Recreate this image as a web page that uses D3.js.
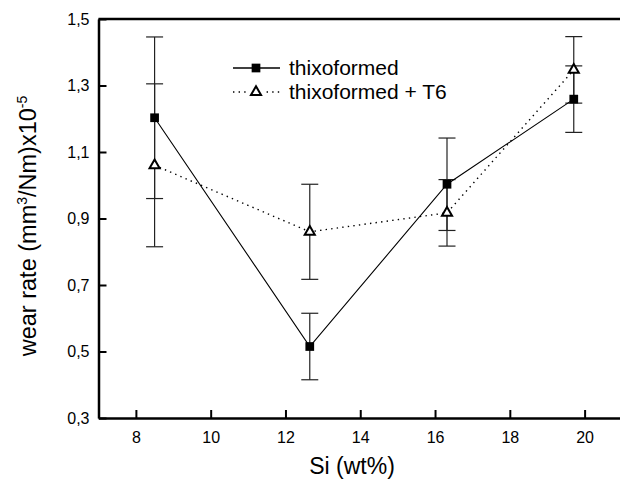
<!DOCTYPE html>
<html>
<head>
<meta charset="utf-8">
<script src="https://cdn.jsdelivr.net/npm/d3@7"></script>
<style>
  body { margin: 0; background: #fff; }
  svg { display: block; font-family: "Liberation Sans", Arial, sans-serif; }
</style>
</head>
<body>
<div id="container"></div>
<script>
/* DATA */
const siContent = [8.5, 12.65, 16.32, 19.71];
const thixoformed = [1.203, 0.515, 1.003, 1.259];
const thixoformedErr = [0.243, 0.10, 0.139, 0.10];
const thixoT6 = [1.06, 0.86, 0.917, 1.347];
const thixoT6Err = [0.245, 0.143, 0.10, 0.10];
const xTicks = [8, 10, 12, 14, 16, 18, 20];
const yTicks = [0.3, 0.5, 0.7, 0.9, 1.1, 1.3, 1.5];
const seriesNames = ["thixoformed", "thixoformed + T6"];

/* CONSTANTS */
const width = 620, height = 481;
const margin = { top: 19, bottom: 63, left: 98.5, right: -2 };

const series = [
  { name: seriesNames[0], y: thixoformed, err: thixoformedErr, marker: "square" },
  { name: seriesNames[1], y: thixoT6, err: thixoT6Err, marker: "triangle" }
].map(s => ({ ...s, points: siContent.map((x, i) => ({ x, y: s.y[i], e: s.err[i] })) }));

/* SCALES */
const xScale = d3.scaleLinear()
  .domain([7, 21])
  .range([margin.left, width - margin.right]);

const yScale = d3.scaleLinear()
  .domain([0.3, 1.5])
  .range([height - margin.bottom, margin.top]);

const commaFmt = d => d3.format(".1f")(d).replace(".", ",");

const svg = d3.select("#container")
  .append("svg")
  .attr("width", width)
  .attr("height", height);

/* AXES */
const xAxis = d3.axisBottom(xScale)
  .tickValues(xTicks)
  .tickSizeInner(-8)
  .tickSizeOuter(0)
  .tickPadding(14);

const gx = svg.append("g")
  .attr("transform", `translate(0,${height - margin.bottom})`)
  .call(xAxis);
gx.select(".domain").attr("stroke-width", 2.5);
gx.selectAll(".tick line").attr("stroke-width", 2);
gx.selectAll(".tick text").attr("font-size", 16).attr("fill", "#000");

const yAxis = d3.axisLeft(yScale)
  .tickValues(yTicks)
  .tickFormat(commaFmt)
  .tickSizeInner(-8)
  .tickSizeOuter(0)
  .tickPadding(9);

const gy = svg.append("g")
  .attr("transform", `translate(${margin.left},0)`)
  .call(yAxis);
gy.select(".domain").attr("stroke-width", 2.5);
gy.selectAll(".tick line").attr("stroke-width", 2);
gy.selectAll(".tick text").attr("font-size", 16).attr("fill", "#000");

// top border
svg.append("line")
  .attr("x1", margin.left).attr("x2", width)
  .attr("y1", yScale(1.5)).attr("y2", yScale(1.5))
  .attr("stroke", "#000").attr("stroke-width", 2.5);

/* AXIS TITLES */
svg.append("text")
  .attr("x", 352)
  .attr("y", 474)
  .attr("text-anchor", "middle")
  .attr("font-size", 23)
  .text("Si (wt%)");

const yTitle = svg.append("text")
  .attr("transform", "translate(36,226) rotate(-90)")
  .attr("text-anchor", "middle")
  .attr("font-size", 23.5);
yTitle.append("tspan").text("wear rate (mm");
yTitle.append("tspan").attr("font-size", 14).attr("dy", -9).text("3");
yTitle.append("tspan").attr("dy", 9).text("/Nm)x10");
yTitle.append("tspan").attr("font-size", 14).attr("dy", -9).text("-5");

/* ERROR BARS */
const cap = 8.5;
series.forEach(s => {
  const g = svg.append("g").attr("stroke", "#222").attr("stroke-width", 1.2);
  g.selectAll("line.v").data(s.points).join("line")
    .attr("x1", d => xScale(d.x)).attr("x2", d => xScale(d.x))
    .attr("y1", d => yScale(d.y + d.e)).attr("y2", d => yScale(d.y - d.e));
  g.selectAll("line.t").data(s.points).join("line")
    .attr("x1", d => xScale(d.x) - cap).attr("x2", d => xScale(d.x) + cap)
    .attr("y1", d => yScale(d.y + d.e)).attr("y2", d => yScale(d.y + d.e));
  g.selectAll("line.b").data(s.points).join("line")
    .attr("x1", d => xScale(d.x) - cap).attr("x2", d => xScale(d.x) + cap)
    .attr("y1", d => yScale(d.y - d.e)).attr("y2", d => yScale(d.y - d.e));
});

/* LINES */
const line = d3.line().x(d => xScale(d.x)).y(d => yScale(d.y));

svg.append("path")
  .datum(series[1].points)
  .attr("d", line)
  .attr("fill", "none")
  .attr("stroke", "#000")
  .attr("stroke-width", 1.4)
  .attr("stroke-dasharray", "1.4,4.2");

svg.append("path")
  .datum(series[0].points)
  .attr("d", line)
  .attr("fill", "none")
  .attr("stroke", "#000")
  .attr("stroke-width", 1.1);

/* MARKERS */
const squareSym = d3.symbol().type(d3.symbolSquare).size(76);
const triSym = d3.symbol().type(d3.symbolTriangle).size(44);

svg.selectAll("path.sq")
  .data(series[0].points).join("path")
  .attr("class", "sq")
  .attr("transform", d => `translate(${xScale(d.x)},${yScale(d.y)})`)
  .attr("d", squareSym)
  .attr("fill", "#000");

svg.selectAll("path.tri")
  .data(series[1].points).join("path")
  .attr("class", "tri")
  .attr("transform", d => `translate(${xScale(d.x)},${yScale(d.y)})`)
  .attr("d", triSym)
  .attr("fill", "#fff")
  .attr("stroke", "#000")
  .attr("stroke-width", 2);

/* LEGEND */
const legend = svg.append("g");
const legendRows = [
  { y: 68, s: series[0] },
  { y: 92, s: series[1] }
];
legendRows.forEach(r => {
  const l = legend.append("line")
    .attr("x1", 233).attr("x2", 280)
    .attr("y1", r.y).attr("y2", r.y)
    .attr("stroke", "#000");
  if (r.s.marker === "square") {
    l.attr("stroke-width", 1.5);
    legend.append("path").attr("transform", `translate(256,${r.y})`)
      .attr("d", squareSym).attr("fill", "#000");
  } else {
    l.attr("stroke-width", 1.4).attr("stroke-dasharray", "1.4,4.2");
    legend.append("rect").attr("x", 248).attr("y", r.y - 7).attr("width", 16).attr("height", 14).attr("fill", "#fff");
    legend.append("path").attr("transform", `translate(256,${r.y})`)
      .attr("d", triSym).attr("fill", "#fff").attr("stroke", "#000").attr("stroke-width", 2);
  }
  legend.append("text")
    .attr("x", 289)
    .attr("y", r.y + 7)
    .attr("font-size", 21)
    .text(r.s.name);
});
</script>
</body>
</html>
